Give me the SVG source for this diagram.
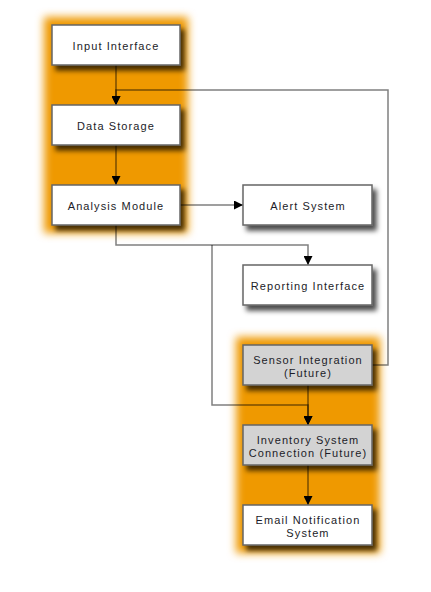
<svg xmlns="http://www.w3.org/2000/svg" width="431" height="592" viewBox="0 0 431 592">
<style>
.cl{fill:#ef9900;filter:url(#glow)}
.n rect{fill:#fff;stroke:#666;stroke-width:1.5;filter:url(#sh)}
.n.f rect{fill:#d3d3d3}
.n text{font-family:"Liberation Sans",Arial,sans-serif;font-size:11px;letter-spacing:1.1px;fill:#1c1c28;text-anchor:middle}
.e{fill:none;stroke:#000;stroke-opacity:0.5;stroke-width:1.5}
.e.a{marker-end:url(#ar)}
</style>
<defs>
<filter id="glow" x="-20%" y="-20%" width="140%" height="140%"><feGaussianBlur stdDeviation="4"/></filter>
<filter id="sh" x="-20%" y="-30%" width="150%" height="180%"><feDropShadow dx="4" dy="5" stdDeviation="2.5" flood-color="#000" flood-opacity="0.7"/></filter>
<marker id="ar" viewBox="0 0 10 10" refX="10" refY="5" markerWidth="9" markerHeight="9" markerUnits="userSpaceOnUse" orient="auto"><path d="M0,0L10,5L0,10z" fill="#000"/></marker>
</defs>
<rect class="cl" x="44" y="17" width="144" height="216"/>
<rect class="cl" x="236" y="337" width="144" height="216"/>
<g id="connectors">
<path class="e a" d="M116,65V105"/>
<path class="e a" d="M372,365H388V90H116V105"/>
<path class="e a" d="M116,145V185"/>
<path class="e a" d="M180,205H243"/>
<path class="e a" d="M116,225V245H308V265"/>
<path class="e a" d="M212,245V405H308V425"/>
<path class="e a" d="M308,385V425"/>
<path class="e a" d="M308,465V505"/>
</g>
<g id="input-interface" class="n"><rect x="52" y="25" width="128" height="40"/><text x="116" y="50">Input Interface</text></g>
<g id="data-storage" class="n"><rect x="52" y="105" width="128" height="40"/><text x="116" y="130">Data Storage</text></g>
<g id="analysis-module" class="n"><rect x="52" y="185" width="128" height="40"/><text x="116" y="210">Analysis Module</text></g>
<g id="alert-system" class="n"><rect x="243" y="185" width="129" height="40"/><text x="308" y="210">Alert System</text></g>
<g id="reporting-interface" class="n"><rect x="243" y="265" width="129" height="40"/><text x="308" y="290">Reporting Interface</text></g>
<g id="sensor-integration" class="n f"><rect x="243" y="345" width="129" height="40"/><text x="308" y="364">Sensor Integration</text><text x="308" y="377">(Future)</text></g>
<g id="inventory-system" class="n f"><rect x="243" y="425" width="129" height="40"/><text x="308" y="444">Inventory System</text><text x="308" y="457">Connection (Future)</text></g>
<g id="email-notification" class="n"><rect x="243" y="505" width="129" height="40"/><text x="308" y="524">Email Notification</text><text x="308" y="537">System</text></g>
</svg>
